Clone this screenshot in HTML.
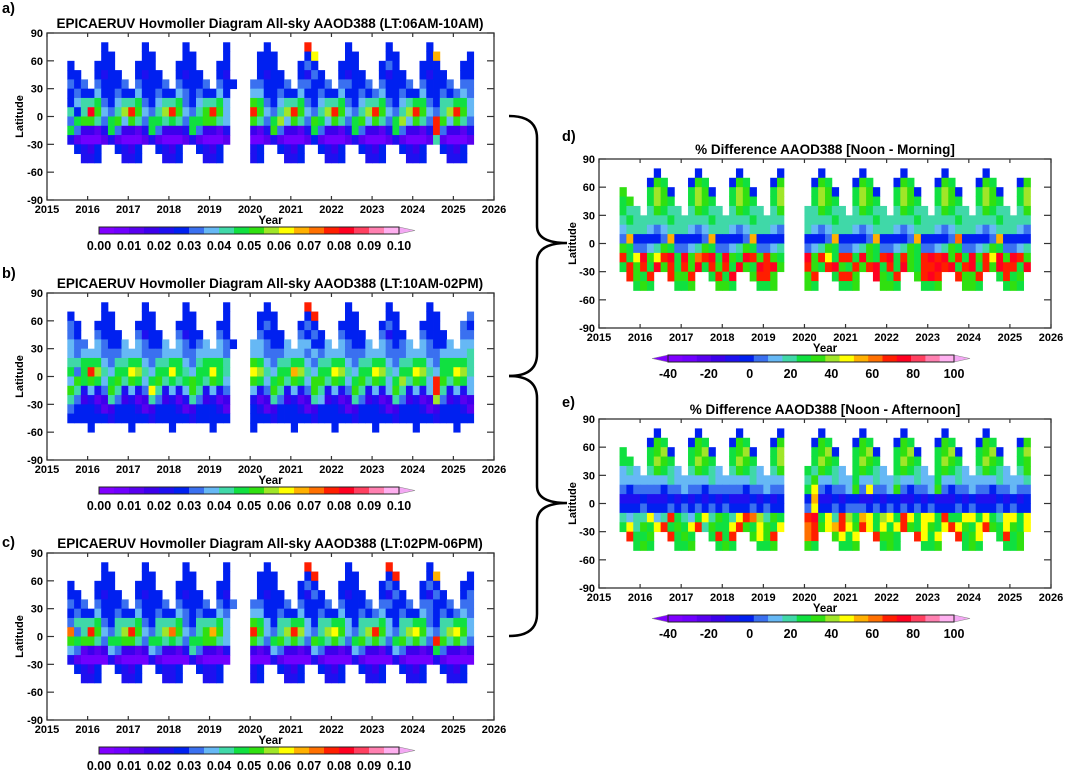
<!DOCTYPE html>
<html><head><meta charset="utf-8"><title>EPICAERUV Hovmoller</title>
<style>
html,body{margin:0;padding:0;background:#fff;}
svg{display:block;font-family:"Liberation Sans",Arial,sans-serif;font-weight:bold;}
</style></head>
<body>
<svg id="fig" xmlns="http://www.w3.org/2000/svg" width="1065" height="770" viewBox="0 0 1065 770">
<rect x="0" y="0" width="1065" height="770" fill="#fff"/>
<path d="M509,116 Q537,116 537,138 L537,226 Q537,243 567,243 Q537,243 537,262 L537,354 Q537,376 509,376" fill="none" stroke="#000" stroke-width="2.5"/>
<path d="M509,376 Q537,376 537,398 L537,486 Q537,503 567,503 Q537,503 537,522 L537,614 Q537,636 509,636" fill="none" stroke="#000" stroke-width="2.5"/>
</svg>
<script>
// ---- colour scale data ----
const palette = ['#8000ff','#7000ff','#5800f0','#3c00ec','#1e10f0','#0020f0','#3a70f0','#66b8f5','#40d8a8','#10e040','#30e010','#a0e628','#ffff00','#ffb000','#ff7000','#ff1e00','#ff0020','#ff4060','#ff80b0','#ffb0f0'];
const aodTicks = ['0.00','0.01','0.02','0.03','0.04','0.05','0.06','0.07','0.08','0.09','0.10'];
const pctTicks = ['-40','-20','0','20','40','60','80','100'];
const yearTicks = [2015,2016,2017,2018,2019,2020,2021,2022,2023,2024,2025,2026];
const latTicks = [90,60,30,0,-30,-60,-90];
const latBands = [75,65,55,45,35,25,15,5,-5,-15,-25,-35,-45,-55];
const timeStart = 2015.5;
const timeStep = 1/6;
// level codes: '.' = no data, 0-9,a-j = colour level 0..19
const panelA = [
"...|..5...|..5...|..5...|..5...|..5...|..f...|..5...|..5...|..5...|...",
"...|..55..|..55..|..55..|..5...|.555..|..5c..|..55..|..55..|..5d..|..5",
"5..|.555..|.555..|.555..|.55...|.555..|.565..|.555..|.565..|.555..|.55",
"55.|.5455.|.5455.|.5455.|.54...|.5455.|.5465.|.5455.|.5455.|.5455.|.55",
"656|.65556|.65556|.65556|.655..|665556|.66556|.66556|.65556|.65556|.66",
"565|575565|575565|576565|575...|775565|575565|575565|675565|575565|676",
"578|896578|896578|896578|897...|a96578|896578|896578|896578|996588|997",
"858|ga768b|fa768b|fa768a|fa7...|fa768b|fa768b|fa768b|fa768b|fa768b|fa7",
"69a|a869a7|a86998|98699a|a87...|a869b7|a86a97|a869a7|a869b7|a86fa7|a86",
"963|324963|324963|334963|324...|324a63|324963|324963|324963|324f63|324",
"421|112421|112421|112421|112...|112421|112521|112421|112421|112821|112",
".54|35..54|35..54|35..54|35....|45..54|35..54|35..54|35..54|35..54|35.",
"..4|45...4|45...4|45...4|45....|45...4|45...4|45...4|45...4|45...4|45.",
"...|......|......|......|......|......|......|......|......|......|..."];
const panelB = [
"...|..5...|..5...|..5...|..5...|..5...|..f...|..5...|..5...|..5...|...",
"5..|..55..|..55..|..55..|..5...|.555..|..5f..|..55..|..55..|..55..|..6",
"65.|.555..|.555..|.555..|.55...|.565..|.565..|.555..|.565..|.555..|.65",
"65.|.6555.|.6455.|.6455.|.65...|.6555.|.6565.|.6555.|.6455.|.6555.|.66",
"766|.76557|.76557|.76567|.765..|776557|.77557|.76557|.76567|.76557|.77",
"767|776667|776667|776677|776...|776667|776767|776667|776667|776677|778",
"889|997688|997688|997689|998...|a97688|997688|997688|997688|997699|998",
"969|fb8799|cb8799|c98799|c98...|cb8799|db8799|cb8799|cb8799|cb8799|cb8",
"7a9|a979a8|a979a8|989a98|a97...|a979a8|a97aa8|a979a8|a979b8|a97fa8|a97",
"a84|746a84|746c84|747a84|746...|746a84|746a84|746a84|747a84|747f84|747",
"863|423863|423863|424863|423...|423863|423873|423863|423863|423b63|423",
"655|542355|542355|542355|542...|542355|542355|542355|542355|542355|542",
"555|555455|555455|555455|555...|555455|555455|555455|555455|555455|555",
"...|5.....|5.....|5.....|5.....|5.....|5.....|5.....|5.....|5.....|5.."];
const panelC = [
"...|..5...|..5...|..5...|..5...|..5...|..f...|..5...|..f...|..5...|...",
"...|..55..|..55..|..55..|..5...|.555..|..5f..|..55..|..5f..|..5d..|..5",
"5..|.555..|.555..|.555..|.55...|.555..|.565..|.555..|.565..|.565..|.55",
"55.|.5455.|.5455.|.5455.|.54...|.5455.|.5465.|.5455.|.5465.|.5465.|.56",
"656|.65556|.65556|.65556|.656..|665556|.65556|.65556|.66556|.66556|.66",
"565|575565|575565|576565|576...|775565|575565|575565|675565|576565|676",
"688|896588|896588|896588|897...|a97588|997588|997588|897588|996588|997",
"e68|fa768b|fa768b|ea768a|da7...|fa768b|fb768b|ca768b|fa768b|ca768b|ca7",
"a9a|a8699a|a86998|98699a|a87...|a869a8|a86a98|a869a8|a869a8|a86fa8|a86",
"762|323763|323763|324863|324...|323763|323763|323763|324763|323963|323",
"421|111421|111421|111421|111...|111421|111421|111421|111421|111421|111",
".54|35..54|35..54|45..54|45....|45..54|35..54|35..54|35..54|35..54|35.",
"..4|45...4|45...4|45...4|45....|45...4|45...4|45...4|45...4|45...4|45.",
"...|......|......|......|......|......|......|......|......|......|..."];
const panelD = [
"...|..5...|..5...|..5...|..5...|..5...|..5...|..5...|..5...|..5...|...",
"...|.5a9..|.5a9..|.5a9..|.5a...|.5a9..|.5a9..|.5a9..|.5a9..|.5a9..|.5a",
"a..|.9ba5.|.9ba5.|.9ba5.|.9b...|.9ba5.|.9ba5.|.9ba5.|.9ba5.|.9ba5.|.9b",
"9a.|.9ba9.|.9ba9.|.9ba9.|.9b...|.9ba9.|.9ba9.|.9ba9.|.9ba9.|.9ba9.|.9b",
"988|.8a988|.8a988|.8a988|.8a...|88a988|.8a988|.8a988|.8a988|.8a988|.8a",
"898|888898|888898|888898|888...|888898|888898|888898|888898|888898|888",
"788|876788|876788|876788|876...|876788|876788|876788|876788|876788|876",
"6d5|5556d5|5556d5|5556d5|555...|5556d5|5556d5|5556d5|5556e5|5556d5|555",
"a96|678a96|678a96|678a96|678...|678a96|678a96|678a96|678a96|678a96|678",
"f9c|gacfg9|gaefg9|ga9gfa|fa9...|gafc9f|f9ga9f|g9fa9f|gfgaf9|gafcga|gfa",
"9fa|f9gaf9|fag9fa|f9ga9g|fga...|fa9fga|9fafg9|f9ga9f|fgfg9f|g9fagf|f9g",
".fa|9f..fa|af..9f|9g..af|fa....|af..9f|fa..ga|9f..af|gf..fa|af..9f|9a.",
"..9|a9...9|9a...a|a9...9|9a....|a9...9|9a...a|a9...9|9a...a|a9...9|a9.",
"...|......|......|......|......|......|......|......|......|......|..."];
const panelE = [
"...|..5...|..5...|..5...|..5...|..5...|..5...|..5...|..5...|..5...|...",
"...|.5a9..|.5a9..|.5a9..|.5a...|.5a9..|.5a9..|.5a9..|.5a9..|.5a9..|.5a",
"9..|.9ab5.|.9ab5.|.9ab5.|.9b...|.9ab5.|.9ab5.|.9ab5.|.9ab5.|.9ab5.|.9b",
"99.|.9ba9.|.9ba9.|.9ba9.|.9b...|.9ba9.|.9ba9.|.9ba9.|.9ba9.|.9ba9.|.9a",
"787|.8a987|.8a987|.8a987|.8a...|98a987|.9a987|.9a987|.9a987|.8a987|.8a",
"777|777787|777787|777787|777...|8a7787|797787|787787|797787|777787|778",
"656|666566|766566|666566|766...|9c6566|7a6c66|7a6566|7a6566|766566|766",
"444|544454|545454|544454|545...|5d4454|554454|554454|544454|544454|545",
"555|655565|656565|655565|655...|6c5565|666565|656565|655565|655565|655",
"878|8c78f9|879c8a|98cfeb|8a9...|fg9c8f|b9dc9b|c9fc9c|c9f99c|c9c98c|c9c",
"9c8|a9cf9a|9cf8a9|9cfa9c|a9c...|efacdf|cafc9c|9cfa9c|a9cfca|9cfa9c|a9c",
".f9|9a..f9|a9..9f|9f..ac|af....|ef..ac|9c..fa|a9..fc|9c..f9|ac..9f|9a.",
"..9|a9...9|9a...9|a9...9|9a....|a9...9|9a...9|a9...9|9a...9|a9...9|9a.",
"...|......|......|......|......|......|......|......|......|......|..."];

const NS = 'http://www.w3.org/2000/svg';
const svg = document.getElementById('fig');
function mk(tag, attrs, parent){
  const e = document.createElementNS(NS, tag);
  for (const k in attrs) e.setAttribute(k, attrs[k]);
  (parent || svg).appendChild(e);
  return e;
}
function txt(s, attrs, parent){ const e = mk('text', attrs, parent); e.textContent = s; return e; }

function drawPanel(p){
  const g = mk('g', {});
  
  
  const xs = t => p.x0 + (t - 2015) / 11 * (p.x1 - p.x0);
  const ys = lat => p.y0 + (90 - lat) / 180 * (p.y1 - p.y0);
  p.rows.forEach((rowStr, r) => {
    const codes = rowStr.replace(/\|/g, '');
    for (let c = 0; c < codes.length; c++) {
      const ch = codes[c];
      if (ch === '.' || ch === ' ') continue;
      const lvl = parseInt(ch, 20);
      if (isNaN(lvl)) continue;
      const t0 = timeStart + c * timeStep;
      const x = xs(t0), w = xs(t0 + timeStep) - x;
      const y = ys(latBands[r] + 5), h = ys(latBands[r] - 5) - y;
      const cell = mk('rect', {x: x.toFixed(2), y: y.toFixed(2), width: (w + 0.4).toFixed(2), height: (h + 0.4).toFixed(2), fill: palette[Math.min(19, Math.max(0, lvl))]}, g);
      
      
    }
  });
  const fr = mk('rect', {x: p.x0, y: p.y0, width: p.x1 - p.x0, height: p.y1 - p.y0, fill: 'none', stroke: '#333', 'stroke-width': 1.3}, g);
  
  
  yearTicks.forEach(yr => {
    const x = xs(yr);
    mk('line', {x1: x, x2: x, y1: p.y1, y2: p.y1 - 4, stroke: '#333', 'stroke-width': 1.2}, g);
    mk('line', {x1: x, x2: x, y1: p.y0, y2: p.y0 + 4, stroke: '#333', 'stroke-width': 1.2}, g);
    const lb = txt(String(yr), {x: x, y: p.y1 + 13, 'text-anchor': 'middle', 'font-size': 11}, g);
    
    
  });
  latTicks.forEach(lat => {
    const y = ys(lat);
    mk('line', {x1: p.x0, x2: p.x0 + 7, y1: y, y2: y, stroke: '#333', 'stroke-width': 1.2}, g);
    mk('line', {x1: p.x1, x2: p.x1 - 7, y1: y, y2: y, stroke: '#333', 'stroke-width': 1.2}, g);
    const lb = txt(String(lat), {x: p.x0 - 4, y: y + 4, 'text-anchor': 'end', 'font-size': 11}, g);
    
    
  });
  const xt = txt('Year', {x: (p.x0 + p.x1) / 2, y: p.y1 + 24, 'text-anchor': 'middle', 'font-size': 11.5}, g);
  
  
  const yc = (p.y0 + p.y1) / 2;
  const yt = txt('Latitude', {x: p.latX, y: yc, 'text-anchor': 'middle', 'font-size': 11, transform: 'rotate(-90 ' + p.latX + ' ' + yc + ')'}, g);
  
  
  const tt = txt(p.title, {x: p.titleX, y: p.y0 - 5, 'text-anchor': 'middle', 'font-size': 13.5}, g);
  
  
  const pl = txt(p.label, {x: p.labelX, y: p.labelY, 'font-size': 14.5}, g);
  
  
  const cb = mk('g', {}, g);
  
  
  const cbY0 = p.y1 + 27, cbY1 = p.y1 + 34;
  const segW = (p.cb1 - p.cb0) / palette.length;
  palette.forEach((col, i) => {
    mk('rect', {x: (p.cb0 + i * segW).toFixed(2), y: cbY0, width: (segW + 0.3).toFixed(2), height: cbY1 - cbY0, fill: col}, cb);
  });
  mk('polygon', {points: p.cb1 + ',' + cbY0 + ' ' + (p.cb1 + 16) + ',' + ((cbY0 + cbY1) / 2) + ' ' + p.cb1 + ',' + cbY1, fill: '#f4a8f4', stroke: '#888', 'stroke-width': 0.6}, cb);
  if (p.leftTri) mk('polygon', {points: p.cb0 + ',' + cbY0 + ' ' + (p.cb0 - 16) + ',' + ((cbY0 + cbY1) / 2) + ' ' + p.cb0 + ',' + cbY1, fill: '#8000ff', stroke: '#888', 'stroke-width': 0.6}, cb);
  mk('rect', {x: p.cb0, y: cbY0, width: p.cb1 - p.cb0, height: cbY1 - cbY0, fill: 'none', stroke: '#222', 'stroke-width': 1}, cb);
  p.ticks.forEach((s, i) => {
    const v = parseFloat(s);
    const x = p.cb0 + (v - p.vmin) / (p.vmax - p.vmin) * (p.cb1 - p.cb0);
    const lb = txt(s, {x: x, y: cbY1 + 16, 'text-anchor': 'middle', 'font-size': 12.5}, cb);
    
    
  });
}

const L = {x0: 47, x1: 494, latX: 23, titleX: 270, labelX: 2, cb0: 99, cb1: 399, leftTri: false, ticks: aodTicks, vmin: 0, vmax: 0.1};
const R = {x0: 599, x1: 1051, latX: 576, titleX: 825, labelX: 562, cb0: 668, cb1: 954, leftTri: true, ticks: pctTicks, vmin: -40, vmax: 100};
drawPanel(Object.assign({}, L, {name: 'panel-a', y0: 33, y1: 200, rows: panelA, title: 'EPICAERUV Hovmoller Diagram All-sky AAOD388 (LT:06AM-10AM)', label: 'a)', labelY: 13}));
drawPanel(Object.assign({}, L, {name: 'panel-b', y0: 293, y1: 460, rows: panelB, title: 'EPICAERUV Hovmoller Diagram All-sky AAOD388 (LT:10AM-02PM)', label: 'b)', labelY: 278}));
drawPanel(Object.assign({}, L, {name: 'panel-c', y0: 553, y1: 720, rows: panelC, title: 'EPICAERUV Hovmoller Diagram All-sky AAOD388 (LT:02PM-06PM)', label: 'c)', labelY: 547}));
drawPanel(Object.assign({}, R, {name: 'panel-d', y0: 159, y1: 328, rows: panelD, title: '% Difference AAOD388 [Noon - Morning]', label: 'd)', labelY: 141}));
drawPanel(Object.assign({}, R, {name: 'panel-e', y0: 419, y1: 588, rows: panelE, title: '% Difference AAOD388 [Noon - Afternoon]', label: 'e)', labelY: 407}));
</script>
</body></html>
